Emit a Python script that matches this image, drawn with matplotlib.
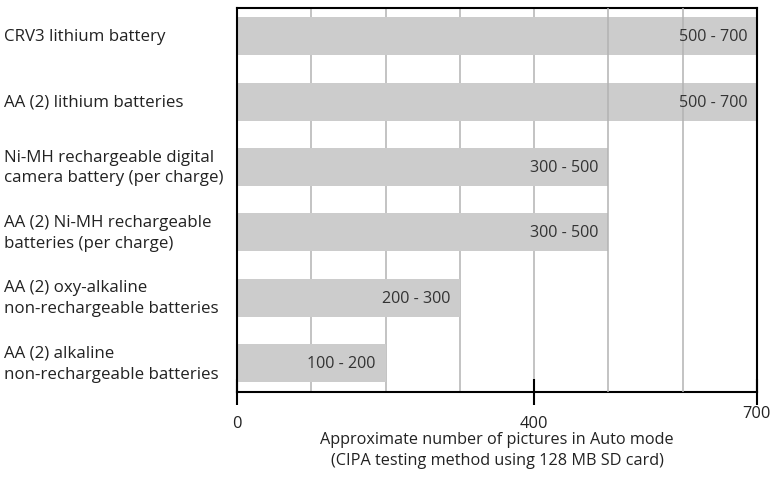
import matplotlib.pyplot as plt
from matplotlib.transforms import blended_transform_factory, ScaledTranslation

plt.rcParams['font.family'] = ['Liberation Sans Narrow', 'Open Sans', 'DejaVu Sans']

# Battery types and picture counts (low - high)
batteries = [
    'CRV3 lithium battery',
    'AA (2) lithium batteries',
    'Ni-MH rechargeable digital\ncamera battery (per charge)',
    'AA (2) Ni-MH rechargeable\nbatteries (per charge)',
    'AA (2) oxy-alkaline\nnon-rechargeable batteries',
    'AA (2) alkaline\nnon-rechargeable batteries',
]
low = [500, 500, 300, 300, 200, 100]
high = [700, 700, 500, 500, 300, 200]

xticks = [0, 400, 700]
grid_back = [100, 200, 300, 400]
grid_front = [500, 600]

fig = plt.figure(figsize=(7.76, 4.81), dpi=100)
ax = fig.add_axes([0.3054, 0.183, 0.67, 0.798])

y = list(range(len(batteries)))
ax.barh(y, high, height=0.58, color='#cccccc', zorder=2)

for g in grid_back:
    ax.axvline(g, color='#b3b3b3', lw=1.1, zorder=1)
for g in grid_front:
    ax.axvline(g, color='#b3b3b3', lw=1.1, zorder=3)

for yi, lo, hi in zip(y, low, high):
    ax.annotate(f'{lo} - {hi}', (hi, yi), xytext=(-7, 0), textcoords='offset points',
                ha='right', va='center', fontsize=11.6, color='#333333', zorder=4)

trans = blended_transform_factory(fig.transFigure, ax.transData)
for yi, name in zip(y, batteries):
    ax.text(0.005, yi, name, transform=trans, ha='left', va='center',
            fontsize=12.2, color='#222222', linespacing=1.4)

ax.set_xlim(0, 700)
ax.set_ylim(5.44, -0.43)
ax.set_yticks([])
ax.set_xticks(xticks)
ax.set_xticklabels([str(t) for t in xticks], fontsize=11.8, color='#222222')
ax.tick_params(axis='x', direction='inout', length=19, width=1.5, pad=7)
# the last tick label sits a little higher
last = ax.get_xticklabels()[-1]
last.set_transform(last.get_transform() + ScaledTranslation(0, 7 / 72, fig.dpi_scale_trans))
for s in ax.spines.values():
    s.set_linewidth(1.5)
    s.set_color('black')

ax.set_xlabel('Approximate number of pictures in Auto mode\n(CIPA testing method using 128 MB SD card)',
              fontsize=11.7, color='#222222', labelpad=0, linespacing=1.45)

fig.savefig('out.png', dpi=100)
